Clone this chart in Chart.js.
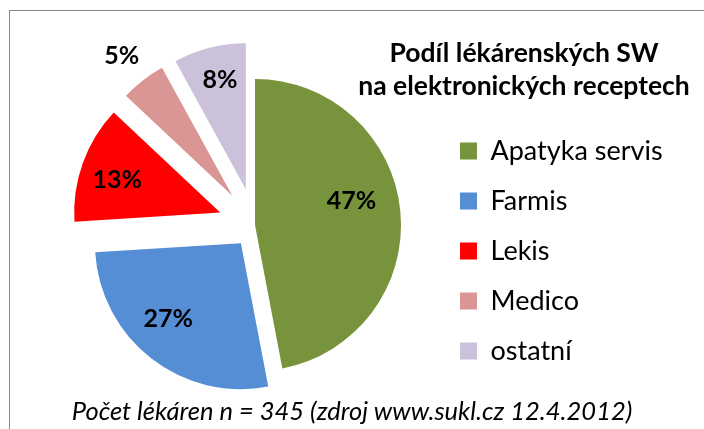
<!DOCTYPE html>
<html>
<head>
<meta charset="utf-8">
<script src="https://cdn.jsdelivr.net/npm/chart.js@4.4.0/dist/chart.umd.min.js"></script>
<style>
  html, body { margin: 0; padding: 0; background: #fff; }
  body { width: 704px; height: 429px; overflow: hidden; position: relative; font-family: Lato, sans-serif; color: #000; }
  #frame { position: absolute; left: 9px; top: 10px; width: 760px; height: 480px; border: 1px solid #8a8a8a; }
  #chart { position: absolute; left: 0; top: 0; }
  #title { position: absolute; left: 324px; top: 36.4px; width: 400px; text-align: center; font-weight: bold; font-size: 26.5px; line-height: 33px; }
  #source { position: absolute; left: 0; top: 395px; width: 704px; text-align: center; font-style: italic; font-size: 25.5px; line-height: 30px; }
</style>
</head>
<body>
<div id="frame"></div>
<canvas id="chart" width="704" height="450"></canvas>
<div id="title"></div>
<div id="source"></div>
<script>
const categories = ['Apatyka servis', 'Farmis', 'Lekis', 'Medico', 'ostatní'];
const shares = [47, 27, 13, 5, 8];
const sliceColors = ['#77933C', '#558ED5', '#FF0000', '#D99694', '#CCC1DA'];
const chartTitle = ['Podíl lékárenských SW', 'na elektronických receptech'];
const sourceNote = 'Počet lékáren n = 345 (zdroj www.sukl.cz 12.4.2012)';

// how far each slice is pulled out (px), and where its % label sits: [radius fraction, position across slice]
const explode = [0, 23, 37, 37, 37];
const labelSpots = [[0.68, 0.45], [0.72, 0.56], [0.74, 0.45], [1.22, 0.47], [0.77, 0.54]];

Chart.defaults.font.family = 'Lato';
document.getElementById('title').innerHTML = chartTitle.join('<br>');
document.getElementById('source').textContent = sourceNote;

const explodePlugin = {
  id: 'explode',
  afterDatasetUpdate(chart, args) {
    args.meta.data.forEach((arc, i) => {
      const mid = (arc.startAngle + arc.endAngle) / 2;
      arc.x += Math.cos(mid) * explode[i];
      arc.y += Math.sin(mid) * explode[i];
    });
  }
};

const pctLabels = {
  id: 'pctLabels',
  afterDatasetsDraw(chart) {
    const ctx = chart.ctx;
    const meta = chart.getDatasetMeta(0);
    ctx.save();
    ctx.font = 'bold 25px Lato';
    ctx.fillStyle = '#000';
    ctx.textAlign = 'center';
    ctx.textBaseline = 'middle';
    meta.data.forEach((arc, i) => {
      const [rf, t] = labelSpots[i];
      const a = arc.startAngle + (arc.endAngle - arc.startAngle) * t;
      const r = arc.outerRadius * rf;
      ctx.fillText(shares[i] + '%', arc.x + Math.cos(a) * r, arc.y + Math.sin(a) * r);
    });
    ctx.restore();
  }
};

new Chart(document.getElementById('chart'), {
  type: 'pie',
  data: {
    labels: categories,
    datasets: [{
      data: shares,
      backgroundColor: sliceColors,
      borderWidth: 0,
      radius: 146,
    }],
  },
  options: {
    responsive: false,
    animation: false,
    layout: { padding: { left: 73, right: 37, top: 62.5, bottom: 62.5 } },
    plugins: {
      tooltip: { enabled: false },
      legend: {
        position: 'right',
        align: 'end',
        maxWidth: 230,
        labels: {
          boxWidth: 17,
          boxHeight: 17,
          padding: 23,
          color: '#000',
          font: { size: 27 },
        },
      },
    },
  },
  plugins: [explodePlugin, pctLabels],
});
</script>
</body>
</html>
